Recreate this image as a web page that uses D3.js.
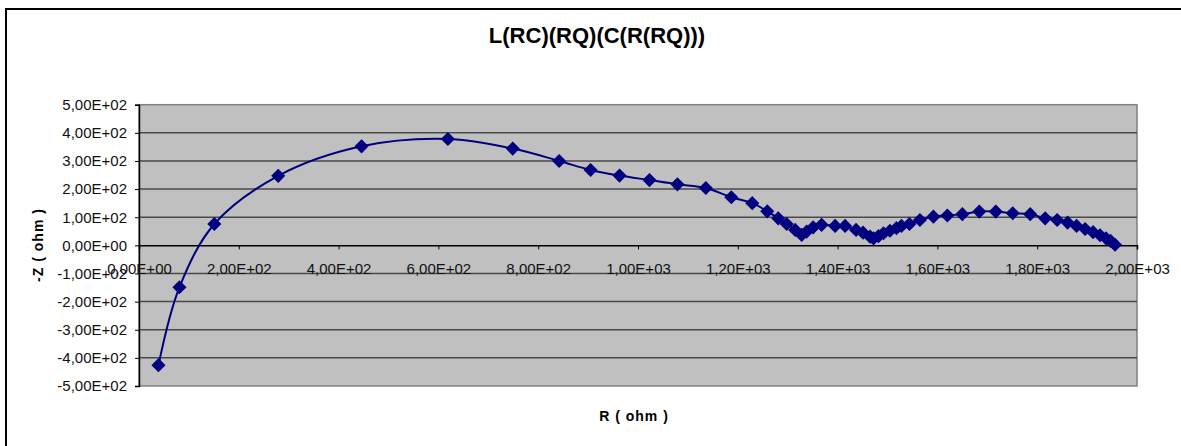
<!DOCTYPE html>
<html>
<head>
<meta charset="utf-8">
<script src="https://cdn.jsdelivr.net/npm/d3@7"></script>
<style>
  body { margin: 0; background: #fff; }
  svg { display: block; font-family: "Liberation Sans", Arial, sans-serif; }
</style>
</head>
<body>
<div id="chart"></div>
<script>
// Nyquist data
var resistance = [39, 81, 151, 279, 446, 619, 749, 842, 905, 963, 1023, 1079, 1136, 1187, 1229, 1259,
  1281, 1298, 1315, 1328, 1338, 1351, 1368, 1395, 1415, 1437, 1451, 1465, 1472, 1482, 1492, 1505,
  1518, 1528, 1544, 1565, 1592, 1620, 1650, 1684, 1717, 1751, 1786, 1816, 1840, 1861, 1879, 1896,
  1912, 1926, 1938, 1947, 1956];
var minusZ = [-426, -149, 76, 247, 352, 378, 344, 300, 268, 248, 232, 217, 204, 171, 150, 121,
  96, 76, 55, 37, 49, 64, 73, 69, 69, 55, 45, 31, 25, 33, 43, 52,
  61, 69, 76, 90, 102, 106, 111, 120, 120, 114, 111, 96, 90, 81, 69, 58,
  47, 36, 25, 16, 2];
var xTicks = [0, 200, 400, 600, 800, 1000, 1200, 1400, 1600, 1800, 2000];
var yTicks = [-500, -400, -300, -200, -100, 0, 100, 200, 300, 400, 500];

var W = 1181, H = 446;
var plotLeft = 139, plotRight = 1137, plotTop = 104.7, plotBottom = 386;

var svg = d3.select('#chart').append('svg')
  .attr('width', W).attr('height', H);

// outer chart frame
svg.append('rect')
  .attr('x', 6).attr('y', 9).attr('width', 1300).attr('height', 600)
  .attr('fill', 'none').attr('stroke', '#000').attr('stroke-width', 2);

var x = d3.scaleLinear().domain([0, 2000]).range([plotLeft, plotRight]);
var y = d3.scaleLinear().domain([-500, 500]).range([plotBottom, plotTop]);

// excel style numbers: 5,00E+02
function fmt(v) {
  if (v === 0) return '0,00E+00';
  var e = Math.floor(Math.log10(Math.abs(v)));
  var m = v / Math.pow(10, e);
  return m.toFixed(2).replace('.', ',') + 'E' + (e < 0 ? '-' : '+') + String(Math.abs(e)).padStart(2, '0');
}

// plot area
svg.append('rect')
  .attr('x', plotLeft).attr('y', plotTop).attr('width', plotRight - plotLeft).attr('height', plotBottom - plotTop)
  .attr('fill', '#c0c0c0').attr('stroke', '#808080').attr('stroke-width', 1.5);

svg.append('g').selectAll('line')
  .data(yTicks.filter(function(d) { return d !== -500 && d !== 500 && d !== 0; }))
  .join('line')
  .attr('x1', plotLeft).attr('x2', plotRight)
  .attr('y1', function(d) { return y(d); }).attr('y2', function(d) { return y(d); })
  .attr('stroke', '#4a4a4a').attr('stroke-width', 1.5);

// y axis
var yAxis = svg.append('g')
  .attr('transform', 'translate(' + plotLeft + ',0)')
  .call(d3.axisLeft(y).tickValues(yTicks).tickFormat(fmt).tickSize(4).tickPadding(8));
yAxis.select('.domain').attr('stroke', '#000').attr('stroke-width', 1.5);
yAxis.selectAll('text').attr('font-size', 15).attr('fill', '#111')
  .attr('font-family', '"Liberation Sans", Arial, sans-serif');

// x axis crosses at zero
var xAxis = svg.append('g')
  .attr('transform', 'translate(0,' + y(0) + ')')
  .call(d3.axisBottom(x).tickValues(xTicks).tickFormat(fmt).tickSize(4).tickPadding(14));
xAxis.select('.domain').attr('stroke', '#000').attr('stroke-width', 1.5);
xAxis.selectAll('text').attr('font-size', 15).attr('fill', '#111')
  .attr('font-family', '"Liberation Sans", Arial, sans-serif');

var pts = resistance.map(function(r, i) { return [r, minusZ[i]]; });

var line = d3.line()
  .x(function(d) { return x(d[0]); })
  .y(function(d) { return y(d[1]); })
  .curve(d3.curveCatmullRom.alpha(0.5));

svg.append('path')
  .datum(pts)
  .attr('d', line)
  .attr('fill', 'none').attr('stroke', '#000080').attr('stroke-width', 2);

svg.append('g').selectAll('path')
  .data(pts)
  .join('path')
  .attr('d', d3.symbol(d3.symbolSquare, 100))
  .attr('transform', function(d) { return 'translate(' + x(d[0]) + ',' + y(d[1]) + ') rotate(45)'; })
  .attr('fill', '#000080');

// titles
svg.append('text')
  .attr('x', 597).attr('y', 43)
  .attr('text-anchor', 'middle').attr('font-weight', 'bold').attr('font-size', 22)
  .text('L(RC)(RQ)(C(R(RQ)))');

svg.append('text')
  .attr('x', 634).attr('y', 421)
  .attr('text-anchor', 'middle').attr('font-weight', 'bold').attr('font-size', 14)
  .attr('letter-spacing', 1)
  .text('R ( ohm )');

svg.append('text')
  .attr('transform', 'translate(43,245) rotate(-90)')
  .attr('text-anchor', 'middle').attr('font-weight', 'bold').attr('font-size', 14)
  .attr('letter-spacing', 1)
  .text('-Z ( ohm )');
</script>
</body>
</html>
